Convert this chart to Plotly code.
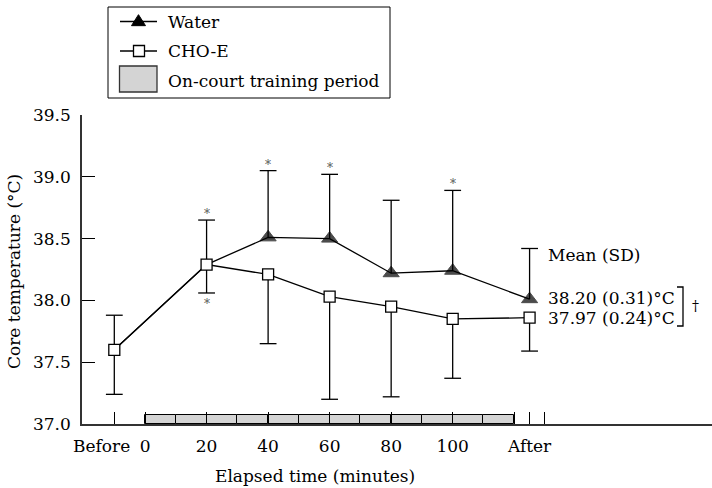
import plotly.graph_objects as go

# time points (minutes); "Before" drawn at -10, "After" at 125
time_x = [-10, 20, 40, 60, 80, 100, 125]

water = [37.60, 38.29, 38.51, 38.50, 38.22, 38.24, 38.01]
water_upper = [37.88, 38.65, 39.05, 39.02, 38.81, 38.89, 38.42]

cho = [37.60, 38.29, 38.21, 38.03, 37.95, 37.85, 37.86]
cho_lower = [37.24, 38.06, 37.65, 37.20, 37.22, 37.37, 37.59]

star_above = [20, 40, 60, 100]   # asterisks over water SD bars
star_below = [20]                # asterisk under CHO-E SD bar

train_segments = [0, 10, 20, 30, 40, 50, 60, 70, 80, 90, 100, 110]
train_len = 10

x_ticks = [-10, 0, 20, 40, 60, 80, 100, 120, 125, 130]
x_labels = ["", "0", "20", "40", "60", "80", "100", "", "After", ""]
before_label = "Before"   # set a little left of its tick, as in the original
y_ticks = [37.0, 37.5, 38.0, 38.5, 39.0, 39.5]
y_labels = ["37.0", "37.5", "38.0", "38.5", "39.0", "39.5"]

FONT = "DejaVu Serif"
L, T, W, H = 82, 115, 630, 309


def px_x(p):
    return (p - L) / W


def px_y(p):
    return (T + H - p) / H


fig = go.Figure()

# on-court training period bar along the x axis
fig.add_trace(go.Bar(
    x=[s + train_len / 2 for s in train_segments],
    y=[0.07] * len(train_segments),
    base=37.0,
    width=train_len,
    marker=dict(color="#d4d4d4", line=dict(color="black", width=1)),
    hoverinfo="skip",
))

fig.add_trace(go.Scatter(
    x=time_x, y=water, mode="lines+markers", name="Water",
    line=dict(color="black", width=1.3),
    marker=dict(symbol="triangle-up", size=[0, 0] + [14] * (len(water) - 2),
                color="black", line=dict(color="black", width=1)),
    error_y=dict(type="data", symmetric=False,
                 array=[u - v for u, v in zip(water_upper, water)],
                 arrayminus=[0] * len(water),
                 width=0, thickness=1.3, color="black"),
))

fig.add_trace(go.Scatter(
    x=time_x, y=cho, mode="lines+markers", name="CHO-E",
    line=dict(color="black", width=1.3),
    marker=dict(symbol="square", size=11, color="white",
                line=dict(color="black", width=1.3)),
    error_y=dict(type="data", symmetric=False,
                 array=[0] * len(cho),
                 arrayminus=[v - lo for v, lo in zip(cho, cho_lower)],
                 width=0, thickness=1.3, color="black"),
))

# caps of the one-sided SD bars
fig.add_trace(go.Scatter(
    x=time_x + time_x, y=water_upper + cho_lower, mode="markers",
    marker=dict(symbol="line-ew", size=12, line=dict(color="black", width=1.3)),
    hoverinfo="skip",
))

annotations = []
for x in star_above:
    annotations.append(dict(x=x, y=water_upper[time_x.index(x)], text="*",
                            showarrow=False, yanchor="middle", yshift=6,
                            font=dict(family=FONT, size=12, color="#555")))
for x in star_below:
    annotations.append(dict(x=x, y=cho_lower[time_x.index(x)], text="*",
                            showarrow=False, yanchor="middle", yshift=-11,
                            font=dict(family=FONT, size=12, color="#555")))

txt = dict(family=FONT, size=17, color="black")
annotations += [
    dict(xref="paper", yref="paper", x=px_x(101.5), y=px_y(446), text=before_label,
         xanchor="center", yanchor="middle", showarrow=False, font=txt),
    dict(xref="paper", yref="paper", x=px_x(546), y=px_y(255), text="Mean (SD)",
         xanchor="left", yanchor="middle", showarrow=False, font=txt),
    dict(xref="paper", yref="paper", x=px_x(546), y=px_y(298), text="38.20 (0.31)°C",
         xanchor="left", yanchor="middle", showarrow=False, font=txt),
    dict(xref="paper", yref="paper", x=px_x(546), y=px_y(318), text="37.97 (0.24)°C",
         xanchor="left", yanchor="middle", showarrow=False, font=txt),
    dict(xref="paper", yref="paper", x=px_x(695), y=px_y(306), text="†",
         xanchor="center", yanchor="middle", showarrow=False, font=dict(family=FONT, size=14, color="black")),
    dict(xref="paper", yref="paper", x=px_x(315), y=px_y(476), text="Elapsed time (minutes)",
         xanchor="center", yanchor="middle", showarrow=False, font=txt),
    dict(xref="paper", yref="paper", x=px_x(14), y=px_y(272), text="Core temperature (°C)",
         textangle=-90, xanchor="center", yanchor="middle", showarrow=False, font=txt),
    # legend labels
    dict(xref="paper", yref="paper", x=px_x(166), y=px_y(21.5), text="Water",
         xanchor="left", yanchor="middle", showarrow=False, font=txt),
    dict(xref="paper", yref="paper", x=px_x(166), y=px_y(51), text="CHO-E",
         xanchor="left", yanchor="middle", showarrow=False, font=txt),
    dict(xref="paper", yref="paper", x=px_x(166), y=px_y(80.5), text="On-court training period",
         xanchor="left", yanchor="middle", showarrow=False, font=txt),
]


def tri_path(cx, cy, w, h):
    pts = [(cx - w / 2, cy + h / 3), (cx + w / 2, cy + h / 3), (cx, cy - 2 * h / 3)]
    return "M " + " L ".join(f"{px_x(a):.5f},{px_y(b):.5f}" for a, b in pts) + " Z"


line_k = dict(color="black", width=1.3)
shapes = [
    # legend box
    dict(type="rect", xref="paper", yref="paper", x0=px_x(108), x1=px_x(390),
         y0=px_y(98), y1=px_y(7), line=dict(color="black", width=1)),
    dict(type="line", xref="paper", yref="paper", x0=px_x(120), x1=px_x(157),
         y0=px_y(21.5), y1=px_y(21.5), line=line_k),
    dict(type="path", xref="paper", yref="paper", path=tri_path(138.5, 22, 14, 11),
         fillcolor="black", line=dict(color="black", width=1)),
    dict(type="line", xref="paper", yref="paper", x0=px_x(120), x1=px_x(157),
         y0=px_y(51), y1=px_y(51), line=line_k),
    dict(type="rect", xref="paper", yref="paper", x0=px_x(133.5), x1=px_x(144.5),
         y0=px_y(56.5), y1=px_y(45.5), fillcolor="white", line=line_k),
    dict(type="rect", xref="paper", yref="paper", x0=px_x(119.5), x1=px_x(157),
         y0=px_y(92), y1=px_y(66), fillcolor="#d4d4d4", line=dict(color="#333", width=1.3)),
    # significance bracket
    dict(type="path", xref="paper", yref="paper",
         path=f"M {px_x(677)},{px_y(287)} L {px_x(683)},{px_y(287)} "
              f"L {px_x(683)},{px_y(326)} L {px_x(677)},{px_y(326)}",
         line=line_k),
]

fig.update_layout(
    width=712, height=488, autosize=False,
    margin=dict(l=L, r=0, t=T, b=488 - T - H, autoexpand=False),
    paper_bgcolor="white", plot_bgcolor="white",
    showlegend=False, bargap=0,
    font=dict(family=FONT, size=17, color="black"),
    annotations=annotations, shapes=shapes,
    xaxis=dict(range=[-20.5, 184.3], tickvals=x_ticks, ticktext=x_labels,
               ticks="inside", ticklen=12, tickwidth=1.3, tickcolor="black",
               showline=True, linecolor="#333", linewidth=1.5, tickangle=0,
               showgrid=False, zeroline=False, ticklabelstandoff=6, automargin=False,
               tickfont=dict(family=FONT, size=17, color="black")),
    yaxis=dict(range=[37.0, 39.5], tickvals=y_ticks, ticktext=y_labels,
               ticks="inside", ticklen=13, tickwidth=1.3, tickcolor="black",
               showline=True, linecolor="#333", linewidth=1.5,
               showgrid=False, zeroline=False, ticklabelstandoff=6, automargin=False,
               tickfont=dict(family=FONT, size=17, color="black")),
)

fig.write_html("out.html", config={"displayModeBar": False},
               post_script="document.body.style.margin='0';")
